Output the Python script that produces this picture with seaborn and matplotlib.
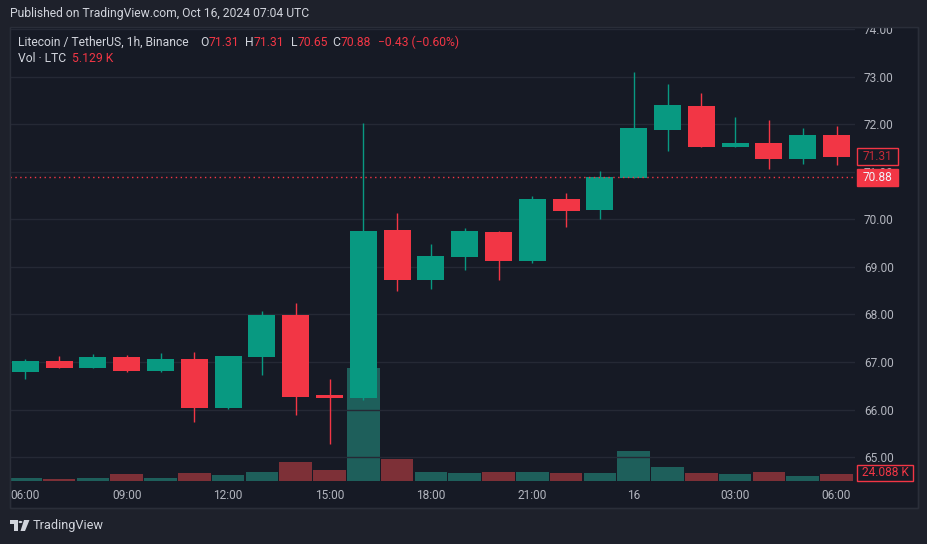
import numpy as np
import pandas as pd
import matplotlib
matplotlib.use("Agg")
import matplotlib.pyplot as plt
from matplotlib.patches import Rectangle, Polygon, Circle
import seaborn as sns

# hourly LTC/USDT candles, Oct 15 06:00 -> Oct 16 06:00
opens  = [66.79, 67.02, 66.88, 67.11, 66.81, 67.06, 66.04, 67.11, 67.99, 66.31, 66.25, 69.77, 68.72,
          69.21, 69.73, 69.12, 70.43, 70.20, 70.87, 71.88, 72.38, 71.52, 71.60, 71.27, 71.77]
highs  = [67.07, 67.13, 67.17, 67.15, 67.19, 67.21, 67.13, 68.08, 68.24, 66.64, 72.02, 70.13, 69.48,
          69.82, 69.76, 70.49, 70.55, 71.01, 73.09, 72.84, 72.65, 72.15, 72.09, 71.92, 71.96]
lows   = [66.65, 66.87, 66.87, 66.80, 66.79, 65.74, 66.01, 66.73, 65.89, 65.28, 66.21, 68.50, 68.54,
          68.93, 68.72, 69.08, 69.84, 70.01, 70.86, 71.43, 71.51, 71.51, 71.06, 71.16, 71.14]
closes = [67.02, 66.88, 67.11, 66.81, 67.06, 66.04, 67.13, 67.99, 66.27, 66.25, 69.75, 68.72, 69.23,
          69.75, 69.12, 70.43, 70.17, 70.89, 71.92, 72.40, 71.52, 71.60, 71.27, 71.77, 71.31]
volume_k = [10.5, 8.5, 10.0, 24.5, 10.0, 27.5, 21.0, 31.0, 65.0, 37.5, 388.0, 75.0, 30.5,
            28.0, 31.0, 31.0, 28.0, 28.0, 103.0, 48.0, 27.5, 24.0, 31.0, 17.5, 24.088]
time_labels = ["06:00", "09:00", "12:00", "15:00", "18:00", "21:00", "16", "03:00", "06:00"]
price_ticks = [65, 66, 67, 68, 69, 70, 71, 72, 73, 74]
last_price = 70.88
prev_close = 71.31

UP = "#089981"
DOWN = "#f23645"
UP_VOL = "#1e5f5b"
DOWN_VOL = "#7d3037"
PANE = "#161a25"
OUTER = "#1e212b"
GRID = "#252935"
TXT = "#d1d4dc"
AXTXT = "#b2b5be"

df = pd.DataFrame({"open": opens, "high": highs, "low": lows, "close": closes, "vol": volume_k})
df["idx"] = np.arange(len(df))
df["dir"] = np.where(df["close"] >= df["open"], "up", "down")

sns.set_theme(style="dark")
plt.rcParams["font.family"] = ["Roboto", "DejaVu Sans"]

W, H = 928, 544
fig = plt.figure(figsize=(W / 100, H / 100), dpi=100, facecolor=OUTER)

def fx(px):
    return px / W

def fy(py):
    return 1 - py / H

# chart pane background
fig.add_artist(Rectangle((fx(10), fy(508)), fx(918) - fx(10), fy(27) - fy(508),
                         transform=fig.transFigure, facecolor=PANE, edgecolor="#2a2e39",
                         linewidth=1, zorder=-5))

# volume axes (behind) and price axes (front)
vax = fig.add_axes([fx(10), fy(481), fx(855) - fx(10), fy(27) - fy(481)])
ax = vax.twinx()
vax.set_zorder(0)
ax.set_zorder(1)
ax.patch.set_visible(False)
vax.set_facecolor(PANE)

sns.barplot(data=df, x="idx", y="vol", hue="dir", palette={"up": UP_VOL, "down": DOWN_VOL},
            native_scale=True, dodge=False, errorbar=None, saturation=1, width=0.96,
            legend=False, ax=vax, linewidth=0)
vax.set_ylim(0, 1562)
vax.set_xlim(-0.453, 24.547)
vax.set_xlabel("")
vax.set_ylabel("")
vax.set_yticks([])
vax.set_xticks(range(0, 25, 3))
vax.set_xticklabels(time_labels, color=AXTXT, fontsize=8.6)
vax.tick_params(axis="x", length=0, pad=5.5)
vax.grid(False)

# candles
colors = np.where(df["dir"] == "up", UP, DOWN)
ax.vlines(df["idx"], df["low"], df["high"], colors=colors, linewidth=1.0, zorder=3)
ax.bar(df["idx"], (df["close"] - df["open"]).abs().clip(lower=0.03),
       bottom=df[["open", "close"]].min(axis=1), width=0.8, color=colors, linewidth=0, zorder=4)

ax.set_ylim(64.502, 74.04)
ax.set_xlim(-0.453, 24.547)
ax.set_yticks(price_ticks)
ax.set_yticklabels([f"{p:.2f}" for p in price_ticks], color=AXTXT, fontsize=8.6)
ax.tick_params(axis="y", length=0, pad=6.5)
ax.set_xticks(range(0, 25, 3))
ax.grid(True, color=GRID, linewidth=1, zorder=0)
ax.set_axisbelow(True)
for a in (ax, vax):
    for s in a.spines.values():
        s.set_visible(False)

# last price line
ax.axhline(last_price, color=DOWN, linewidth=1, linestyle=(0, (1, 2.5)), zorder=5)

# price-axis labels
def price_box(price, text, filled):
    yc = ax.transData.transform((0, price))[1]
    ypx = H - yc
    fig.add_artist(Rectangle((fx(857), fy(ypx + 8.5)), fx(898) - fx(857), fy(ypx - 8.5) - fy(ypx + 8.5),
                             transform=fig.transFigure, facecolor=DOWN if filled else PANE,
                             edgecolor=DOWN, linewidth=1, zorder=6))
    fig.text(fx(877.5), fy(ypx), text, ha="center", va="center", fontsize=8.6, zorder=7,
             color="#f0f3fa" if filled else "#c42b38")

price_box(prev_close, "71.31", False)
price_box(last_price, "70.88", True)

fig.add_artist(Rectangle((fx(857), fy(481)), fx(913) - fx(857), fy(465) - fy(481),
                         transform=fig.transFigure, facecolor=PANE, edgecolor=DOWN,
                         linewidth=1, zorder=6))
fig.text(fx(885), fy(472.5), f"{volume_k[-1]:.3f} K", ha="center", va="center",
         fontsize=8.6, color=DOWN, zorder=7)

# cover above the pane (clips top tick label)
fig.add_artist(Rectangle((0, fy(27)), 1, 1 - fy(27), transform=fig.transFigure,
                         facecolor=OUTER, edgecolor="none", zorder=8))
fig.add_artist(Rectangle((fx(10), fy(508)), fx(918) - fx(10), fy(27) - fy(508),
                         transform=fig.transFigure, facecolor="none", edgecolor="#2a2e39",
                         linewidth=1, zorder=9))

fig.text(fx(10), fy(14), "Published on TradingView.com, Oct 16, 2024 07:04 UTC",
         color=TXT, fontsize=8.7, va="center", zorder=10)

# legend header inside the pane
hdr = [(18, "Litecoin / TetherUS, 1h, Binance", TXT), (200, "O", TXT), (208.5, "71.31", DOWN),
       (245.5, "H", TXT), (253.5, "71.31", DOWN), (291, "L", TXT), (297.5, "70.65", DOWN),
       (332.5, "C", TXT), (340.5, "70.88", DOWN), (378, "\u22120.43 (\u22120.60%)", DOWN)]
for x, t, c in hdr:
    fig.text(fx(x), fy(42.5), t, color=c, fontsize=8.7, va="center", zorder=10)
fig.text(fx(18), fy(59), "Vol \u00b7 LTC", color=TXT, fontsize=8.7, va="center", zorder=10)
fig.text(fx(72), fy(59), "5.129 K", color=DOWN, fontsize=8.7, va="center", zorder=10)

# TradingView logo
fig.add_artist(Polygon([(fx(10), fy(520)), (fx(18), fy(520)), (fx(18), fy(531)), (fx(14), fy(531)),
                        (fx(14), fy(523.5)), (fx(10), fy(523.5))], closed=True,
                       transform=fig.transFigure, facecolor=TXT, edgecolor="none", zorder=10))
fig.add_artist(Circle((fx(20.5), fy(522)), 1.9 / W, transform=fig.transFigure,
                      facecolor=TXT, edgecolor="none", zorder=10))
fig.add_artist(Polygon([(fx(24), fy(520)), (fx(29.5), fy(520)), (fx(25), fy(531)), (fx(20.5), fy(531))],
                       closed=True, transform=fig.transFigure, facecolor=TXT, edgecolor="none", zorder=10))
fig.text(fx(33), fy(526), "TradingView", color=TXT, fontsize=9.2, va="center", zorder=10)

fig.savefig("out.png", dpi=100, facecolor=OUTER)
